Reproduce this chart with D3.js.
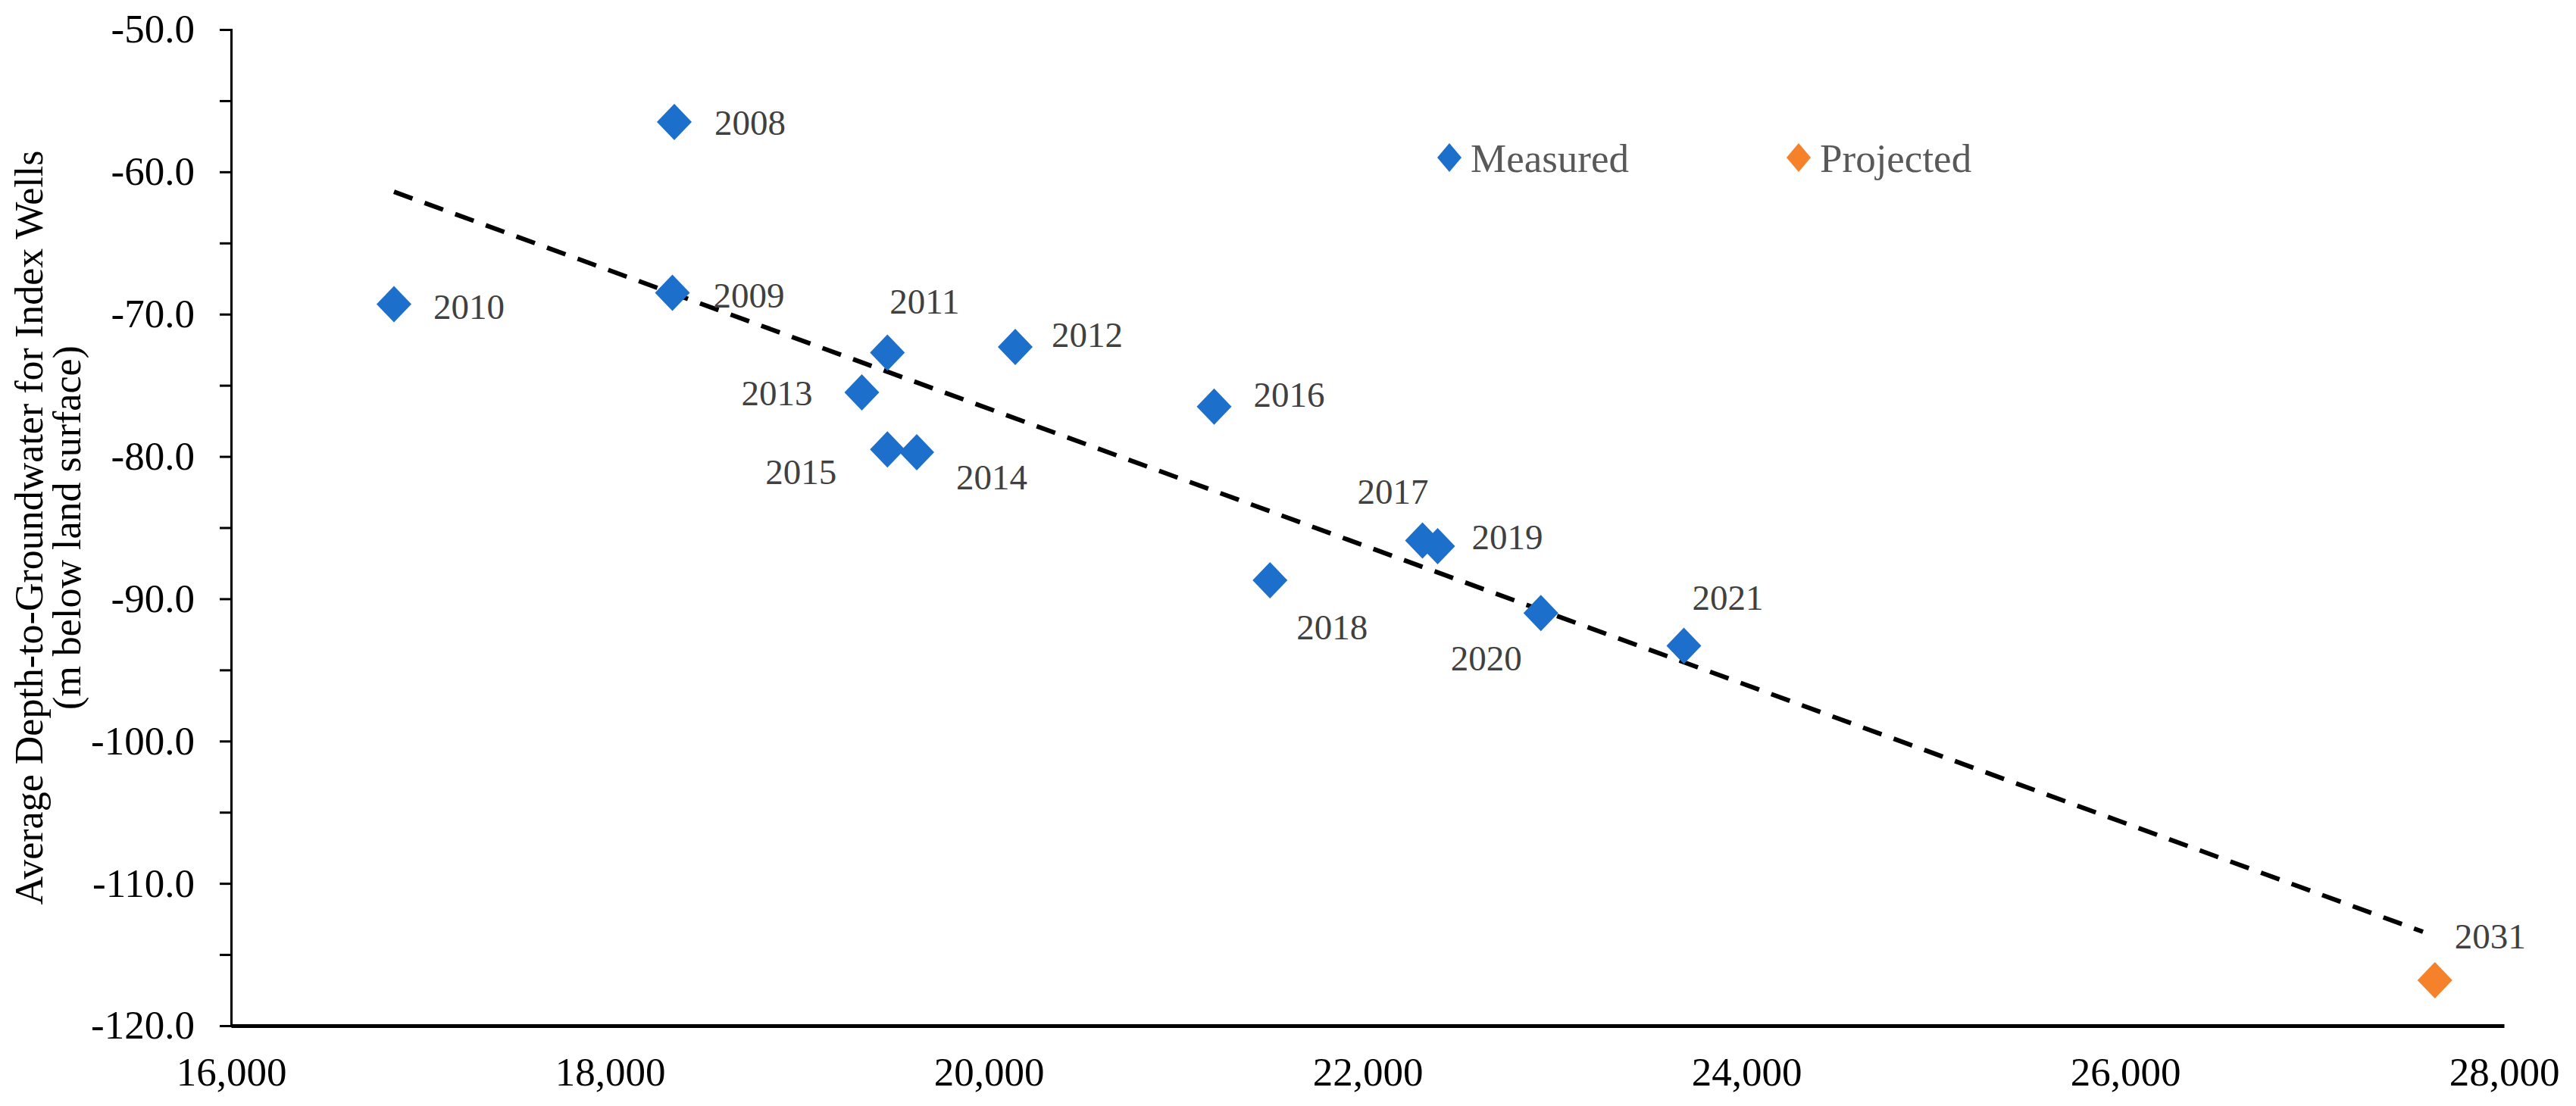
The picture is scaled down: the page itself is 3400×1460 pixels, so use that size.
<!DOCTYPE html>
<html>
<head>
<meta charset="utf-8">
<script src="https://cdn.jsdelivr.net/npm/d3@7"></script>
<style>
  body { margin: 0; background: #fff; }
  text { font-family: "Liberation Serif", "Times New Roman", serif; }
</style>
</head>
<body>
<div id="chart"></div>
<script>
// Measured points (x value, depth in m)
var years    = [2008, 2009, 2010, 2011, 2012, 2013, 2014, 2015, 2016, 2017, 2018, 2019, 2020, 2021];
var xValues  = [18340, 18330, 16860, 19465, 20140, 19330, 19620, 19465, 21190, 22290, 21485, 22370, 22915, 23670];
var depths   = [-56.5, -68.5, -69.3, -72.7, -72.3, -75.5, -79.7, -79.5, -76.5, -85.9, -88.7, -86.3, -91.0, -93.3];

// Projected point
var projYears  = [2031];
var projX      = [27635];
var projDepths = [-116.8];

// Dashed trend line end points
var trendX = [16860, 27572];
var trendY = [-61.4, -113.4];

var xTicks = [16000, 18000, 20000, 22000, 24000, 26000, 28000];
var yTicks = [-50, -60, -70, -80, -90, -100, -110, -120];

// label placement per year (dx, dy, anchor)
var labelPos = {
  2008: [53, 0, "start"], 2009: [54, 3, "start"], 2010: [52, 3, "start"],
  2011: [3, -68, "start"], 2012: [48, -16, "start"], 2013: [-65, 1, "end"],
  2014: [52, 33, "start"], 2015: [-67, 29, "end"], 2016: [52, -16, "start"],
  2017: [-39, -65, "middle"], 2018: [35, 62, "start"], 2019: [45, -12, "start"],
  2020: [-72, 59, "middle"], 2021: [11, -64, "start"], 2031: [26, -58, "start"]
};

var W = 3400, H = 1460;
var margin = {top: 39, right: 95, bottom: 106, left: 305};
var w = W - margin.left - margin.right,
    h = H - margin.top - margin.bottom;

var blue = "#1c6fcb", orange = "#f5822a";

var svg = d3.select("#chart").append("svg")
  .attr("width", W).attr("height", H)
  .append("g")
  .attr("transform", `translate(${margin.left},${margin.top})`);

var x = d3.scaleLinear().domain([16000, 28000]).range([0, w]);
var y = d3.scaleLinear().domain([-50, -120]).range([0, h]);

// Y axis with minor ticks every 5
var yAxis = svg.append("g")
  .call(d3.axisLeft(y).tickValues(d3.range(-50, -121, -5)).tickSize(15).tickPadding(33)
    .tickFormat(d => yTicks.indexOf(d) >= 0 ? d3.format(".1f")(d).replace("\u2212", "-") : ""));
yAxis.select(".domain").attr("stroke", "#000").attr("stroke-width", 3);
yAxis.selectAll(".tick line").attr("stroke", "#000").attr("stroke-width", 3);
yAxis.selectAll("text").style("font-size", "53px").attr("fill", "#000");

// X axis
var xAxis = svg.append("g")
  .attr("transform", `translate(0,${h})`)
  .call(d3.axisBottom(x).tickValues(xTicks).tickSize(0).tickPadding(41)
    .tickFormat(d3.format(",")));
xAxis.select(".domain").attr("stroke", "#000").attr("stroke-width", 5);
xAxis.selectAll("text").style("font-size", "53px").attr("fill", "#000");

// trend line
svg.append("path")
  .datum(d3.zip(trendX, trendY))
  .attr("fill", "none")
  .attr("stroke", "#000")
  .attr("stroke-width", 6)
  .attr("stroke-dasharray", "26,17")
  .attr("d", d3.line().x(d => x(d[0])).y(d => y(d[1])));

var measured = years.map((yr, i) => ({year: yr, x: xValues[i], y: depths[i], c: blue}));
var projected = projYears.map((yr, i) => ({year: yr, x: projX[i], y: projDepths[i], c: orange}));
var all = measured.concat(projected);

var diamond = (s, t) => `M0,${-t}L${s},0L0,${t}L${-s},0Z`;

svg.selectAll(".dot")
  .data(all)
  .enter().append("path")
  .attr("class", "dot")
  .attr("d", diamond(23, 24))
  .attr("fill", d => d.c)
  .attr("transform", d => `translate(${x(d.x)},${y(d.y)})`);

svg.selectAll(".lbl")
  .data(all)
  .enter().append("text")
  .attr("class", "lbl")
  .attr("x", d => x(d.x) + labelPos[d.year][0])
  .attr("y", d => y(d.y) + labelPos[d.year][1])
  .attr("dy", "0.35em")
  .attr("text-anchor", d => labelPos[d.year][2])
  .style("font-size", "47px")
  .attr("fill", "#404040")
  .text(d => d.year);

// legend
var legend = [{name: "Measured", c: blue, lx: 1913}, {name: "Projected", c: orange, lx: 2374}];
var lg = svg.selectAll(".leg").data(legend).enter().append("g")
  .attr("transform", d => `translate(${d.lx - margin.left},${208 - margin.top})`);
lg.append("path").attr("d", diamond(16, 19)).attr("fill", d => d.c);
lg.append("text").attr("x", 28).attr("dy", "0.35em")
  .style("font-size", "53px").attr("fill", "#595959")
  .text(d => d.name);

// Y axis title
var title = svg.append("text")
  .attr("transform", `translate(${-margin.left + 38},${h / 2}) rotate(-90)`)
  .attr("text-anchor", "middle")
  .style("font-size", "52px")
  .attr("fill", "#000");
title.append("tspan").attr("x", 0).attr("dy", "0.35em").text("Average Depth-to-Groundwater for Index Wells");
title.append("tspan").attr("x", 0).attr("dy", "0.95em").text("(m below land surface)");
</script>
</body>
</html>
